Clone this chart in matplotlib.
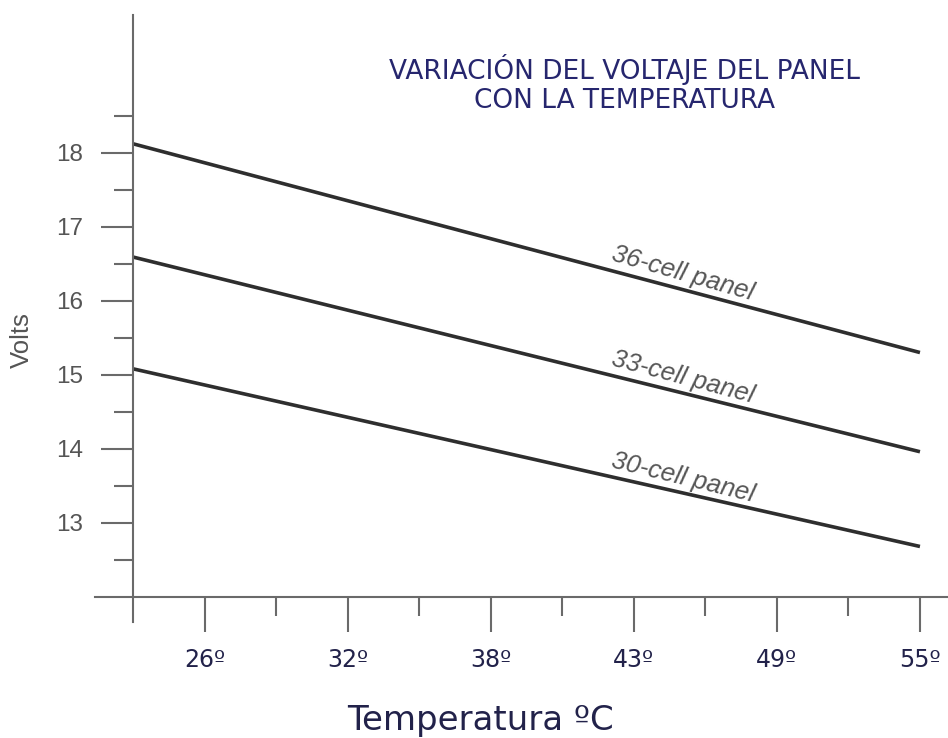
import matplotlib.pyplot as plt
import numpy as np

temps = ['26º', '32º', '38º', '43º', '49º', '55º']
panels = ['36-cell panel', '33-cell panel', '30-cell panel']
# voltage where each line starts (at the vertical axis) and where it ends (at 55º)
volts_start = [18.12, 16.59, 15.08]
volts_end = [15.30, 13.96, 12.68]

fig = plt.figure(figsize=(9.48, 7.38), dpi=100)
ax = fig.add_axes([0.1002, 0.1572, 0.8998, 0.8225])

x_ends = [-0.5, len(temps) - 1]
for v0, v1 in zip(volts_start, volts_end):
    ax.plot(x_ends, [v0, v1], color='#2e2e2e', lw=2.6, solid_capstyle='butt')

ax.set_xlim(-0.766, 5.196)
ax.set_ylim(11.66, 19.86)

axis_col = '#6a6a6a'
for s in ['top', 'right']:
    ax.spines[s].set_visible(False)
ax.spines['left'].set_position(('data', -0.5))
ax.spines['bottom'].set_position(('data', 12))
for s in ['left', 'bottom']:
    ax.spines[s].set_color(axis_col)
    ax.spines[s].set_linewidth(1.5)

ax.set_xticks(range(len(temps)))
ax.set_xticklabels(temps, family='DejaVu Sans')
ax.set_xticks(np.arange(0.5, len(temps) - 1, 1), minor=True)
ax.set_yticks(range(13, 19))
ax.set_yticks(np.arange(12.5, 19, 1), minor=True)
for lab in ax.get_yticklabels():
    lab.set_family('Liberation Sans')

ax.tick_params(axis='x', which='major', length=25, width=1.5, color=axis_col,
               pad=12, labelsize=17, labelcolor='#22224a')
ax.tick_params(axis='x', which='minor', length=14, width=1.5, color=axis_col)
ax.tick_params(axis='y', which='major', length=23, width=1.5, color=axis_col,
               pad=13, labelsize=17.5, labelcolor='#555555')
ax.tick_params(axis='y', which='minor', length=14, width=1.5, color=axis_col)

ax.set_ylabel('Volts', fontsize=18.5, color='#555555', family='Liberation Sans')
ax.yaxis.set_label_coords(-0.072, 0.465)
ax.set_xlabel('Temperatura ºC', fontsize=24.5, color='#22224a')
ax.xaxis.set_label_coords(0.452, -0.135)

ax.text(0.621, 0.886, 'VARIACIÓN DEL VOLTAJE DEL PANEL\nCON LA TEMPERATURA',
        transform=ax.transAxes, ha='center', va='center', multialignment='center',
        fontsize=19, color='#26266e', linespacing=1.15)

# labels sit just above each line, rotated to its slope on screen
xl = 2.833
for name, v0, v1 in zip(panels, volts_start, volts_end):
    yl = v0 + (v1 - v0) * (xl - x_ends[0]) / (x_ends[1] - x_ends[0])
    p0 = ax.transData.transform((x_ends[0], v0))
    p1 = ax.transData.transform((x_ends[1], v1))
    angle = np.degrees(np.arctan2(p1[1] - p0[1], p1[0] - p0[0]))
    ax.annotate(name, xy=(xl, yl), xytext=(0, 7), textcoords='offset points',
                rotation=angle - 1, rotation_mode='anchor', ha='left', va='baseline',
                fontsize=18.5, style='italic', color='#555555', family='Liberation Sans')

fig.savefig('out.png', dpi=100)
